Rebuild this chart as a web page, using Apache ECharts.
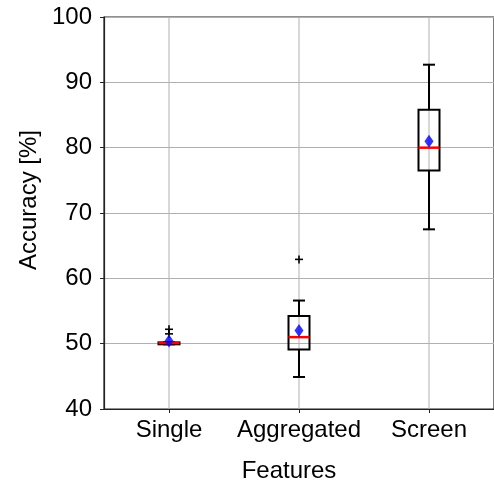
<!DOCTYPE html>
<html>
<head>
<meta charset="utf-8">
<script src="https://cdn.jsdelivr.net/npm/echarts@6/dist/echarts.min.js"></script>
<style>html,body{margin:0;padding:0;background:#fff}#c{width:494px;height:488px}</style>
</head>
<body>
<div id="c"></div>
<script>
var categories = ['Single', 'Aggregated', 'Screen'];
// [min, q1, median, q3, max]
var boxStats = [
  [49.9, 49.9, 50.1, 50.2, 50.2],
  [44.9, 49.1, 51.0, 54.25, 56.6],
  [67.5, 76.5, 80.0, 85.8, 92.7]
];
var means = [50.4, 52.0, 81.0];
// outliers: [categoryIndex, value]
var fliers = [[0, 51.5], [0, 52.2], [1, 62.9]];
var yTicks = [40, 50, 60, 70, 80, 90, 100];

var FONT = 'Liberation Sans';
var chart = echarts.init(document.getElementById('c'), null, {renderer: 'canvas'});

var boxData = boxStats.map(function (s, i) { return [i].concat(s); });
var meanData = means.map(function (m, i) { return [i, m]; });

function renderBox(params, api) {
  var i = api.value(0);
  var pMin = api.coord([i, api.value(1)]);
  var pQ1 = api.coord([i, api.value(2)]);
  var pMed = api.coord([i, api.value(3)]);
  var pQ3 = api.coord([i, api.value(4)]);
  var pMax = api.coord([i, api.value(5)]);
  var x = pMed[0];
  var bw = 21, cw = 12;
  var blk = {stroke: '#000', lineWidth: 2, fill: null};
  return {
    type: 'group',
    children: [
      {type: 'line', shape: {x1: x, y1: pMin[1], x2: x, y2: pQ1[1]}, style: blk},
      {type: 'line', shape: {x1: x, y1: pQ3[1], x2: x, y2: pMax[1]}, style: blk},
      {type: 'line', shape: {x1: x - cw / 2, y1: pMin[1], x2: x + cw / 2, y2: pMin[1]}, style: blk},
      {type: 'line', shape: {x1: x - cw / 2, y1: pMax[1], x2: x + cw / 2, y2: pMax[1]}, style: blk},
      {type: 'rect', shape: {x: x - bw / 2, y: pQ3[1], width: bw, height: pQ1[1] - pQ3[1]}, style: {stroke: '#000', lineWidth: 2, fill: 'none'}},
      {type: 'line', shape: {x1: x - bw / 2, y1: pMed[1], x2: x + bw / 2, y2: pMed[1]}, style: {stroke: '#ff0000', lineWidth: 2.5}}
    ]
  };
}

function renderFlier(params, api) {
  var p = api.coord([api.value(0), api.value(1)]);
  var h = 4;
  var st = {stroke: '#000', lineWidth: 1.6};
  return {
    type: 'group',
    children: [
      {type: 'line', shape: {x1: p[0] - h, y1: p[1], x2: p[0] + h, y2: p[1]}, style: st},
      {type: 'line', shape: {x1: p[0], y1: p[1] - h, x2: p[0], y2: p[1] + h}, style: st}
    ]
  };
}

chart.setOption({
  animation: false,
  grid: {left: 104, top: 17, width: 393, height: 393, show: true, borderColor: '#222', borderWidth: 1.2, backgroundColor: 'transparent'},
  xAxis: {
    type: 'category',
    data: categories,
    boundaryGap: true,
    name: 'Features',
    nameLocation: 'middle',
    nameGap: 50,
    nameTextStyle: {fontFamily: FONT, fontSize: 24, color: '#000', padding: [0, 20, 0, 0]},
    axisLine: {show: true, lineStyle: {color: '#222', width: 1.2}},
    axisTick: {show: true, alignWithLabel: true, length: 4, lineStyle: {color: '#222'}},
    axisLabel: {fontFamily: FONT, fontSize: 24, color: '#000', margin: 9, interval: 0, hideOverlap: false},
    splitLine: {show: false}
  },
  yAxis: {
    type: 'value',
    min: 40,
    max: 100,
    interval: 10,
    name: 'Accuracy [%]',
    nameLocation: 'middle',
    nameGap: 62,
    nameTextStyle: {fontFamily: FONT, fontSize: 24, color: '#000', padding: [0, 0, 0, 26]},
    axisLine: {show: true, lineStyle: {color: '#222', width: 1.2}},
    axisTick: {show: true, length: 4, lineStyle: {color: '#222'}},
    axisLabel: {fontFamily: FONT, fontSize: 24, color: '#000', margin: 12,
      customValues: yTicks},
    splitLine: {show: true, lineStyle: {color: '#b0b0b0', width: 1}}
  },
  series: [
    {
      type: 'custom',
      silent: true,
      z: 1,
      data: categories.map(function (c, i) { return [i]; }),
      renderItem: function (params, api) {
        var top = api.coord([api.value(0), 100]);
        var bot = api.coord([api.value(0), 40]);
        return {type: 'line', shape: {x1: top[0], y1: top[1], x2: bot[0], y2: bot[1]}, style: {stroke: '#b0b0b0', lineWidth: 1}};
      }
    },
    {type: 'custom', renderItem: renderBox, data: boxData, z: 3, encode: {x: 0, y: [1, 2, 3, 4, 5]}},
    {type: 'custom', renderItem: renderFlier, data: fliers, z: 4, encode: {x: 0, y: 1}},
    {type: 'scatter', data: meanData, symbol: 'diamond', symbolSize: [9, 13], itemStyle: {color: '#0000ff'}, z: 5}
  ]
});
</script>
</body>
</html>
